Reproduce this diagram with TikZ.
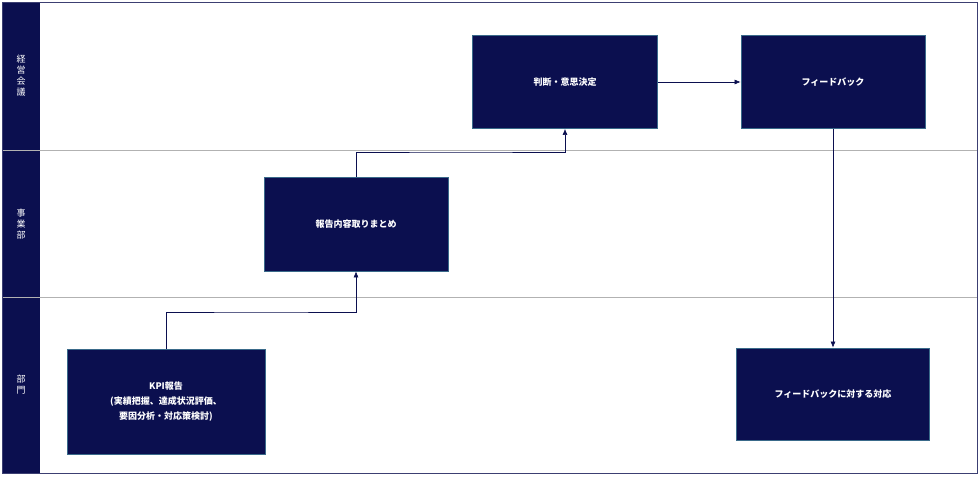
\documentclass[tikz,border=0pt]{standalone}
\usepackage{fontspec}
\setmainfont{Noto Sans CJK JP}
\usetikzlibrary{arrows.meta}
\colorlet{navy}{blue!35!black}
\definecolor{navy}{HTML}{0B0F4F}
\definecolor{boxline}{HTML}{3A6A8A}
\tikzset{
  stepbox/.style={draw=boxline, fill=navy, text=white, font=\bfseries\small,
                  align=center, line width=0.8pt},
  flow/.style={draw=navy, line width=0.6pt, -{Latex[length=6pt,width=5pt]}},
  lane/.style={draw=gray!60, line width=0.8pt}
}
\begin{document}
\begin{tikzpicture}[x=1pt, y=-1pt]
  \useasboundingbox (0,0) rectangle (980,477);
  % lanes
  \fill[navy] (2,2) rectangle (40,473);
  \draw[lane] (2,150) -- (977,150);
  \draw[lane] (2,297) -- (977,297);
  \draw[navy!80, line width=0.8pt] (2,2) rectangle (977,473);
  \node[text=white, align=center, font=\small, inner sep=0pt] (l1) at (21,76) {経\\営\\会\\議};
  \node[text=white, align=center, font=\small, inner sep=0pt] (l2) at (21,224) {事\\業\\部};
  \node[text=white, align=center, font=\small, inner sep=0pt] (l3) at (21,385) {部\\門};
  % boxes
  \node[stepbox, minimum width=198pt, minimum height=105pt] (kpi) at (166,402)
    {KPI報告\\[4pt](実績把握、達成状況評価、\\[4pt]要因分析・対応策検討)};
  \node[stepbox, minimum width=184pt, minimum height=94pt] (summary) at (356,224) {報告内容取りまとめ};
  \node[stepbox, minimum width=185pt, minimum height=93pt] (decide) at (565,82) {判断・意思決定};
  \node[stepbox, minimum width=184pt, minimum height=93pt] (fb) at (833,82) {フィードバック};
  \node[stepbox, minimum width=193pt, minimum height=92pt] (resp) at (833,394) {フィードバックに対する対応};
  % connectors
  \draw[flow] (kpi.north) |- (261,312) -| (summary.south);
  \draw[flow] (summary.north) |- (461,152) -| (decide.south);
  \draw[flow] (decide.east) -- (fb.west);
  \draw[flow] (fb.south) -- (resp.north);
\end{tikzpicture}
\end{document}
